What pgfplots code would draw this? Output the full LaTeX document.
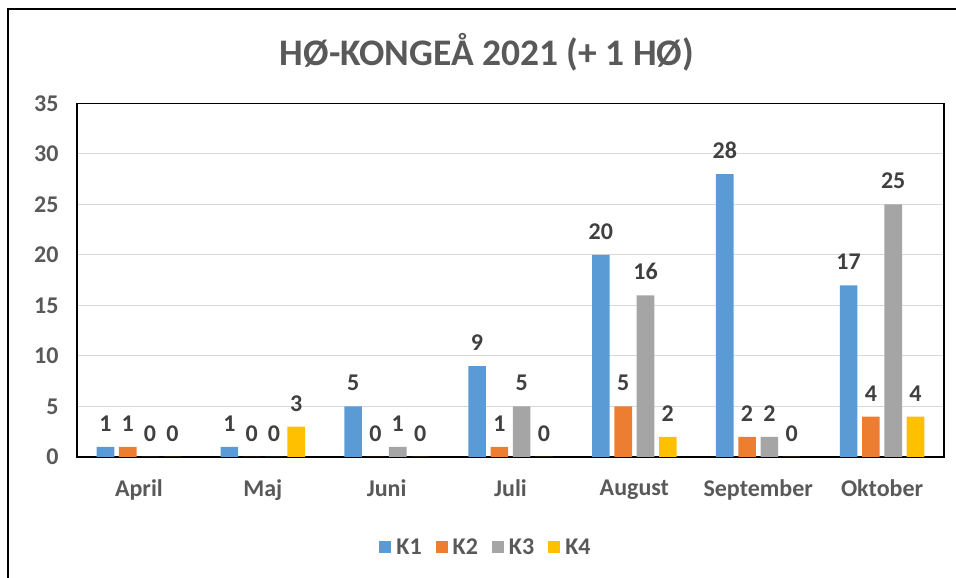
\documentclass[border=0pt]{standalone}
\usepackage{pgfplots}
\pgfplotsset{compat=1.18}
\usepackage{fontspec}
\setmainfont{Carlito}
\definecolor{cK1}{HTML}{5B9BD5}
\definecolor{cK2}{HTML}{ED7D31}
\definecolor{cK3}{HTML}{A5A5A5}
\definecolor{cK4}{HTML}{FFC000}
\definecolor{tickc}{HTML}{595959}
\definecolor{lblc}{HTML}{404040}
\definecolor{gridc}{HTML}{D9D9D9}
\pgfplotsset{sq/.style={legend image code/.code={\fill[##1] (0pt,-6pt) rectangle (12pt,6pt);}}}
\begin{document}
\begin{tikzpicture}[x=1pt,y=1pt]
\path[use as bounding box] (0,0) rectangle (956,578);
\draw[line width=2pt] (7.5,-5) -- (7.5,568.5) -- (965,568.5);
\node[font=\fontsize{37.5}{42}\selectfont\bfseries, text=tickc] at (487,526) {HØ-KONGEÅ 2021 (+ 1 HØ)};
\begin{axis}[at={(77pt,121pt)}, anchor=south west, scale only axis,
  width=867pt, height=353.5pt,
  ybar=4.7pt, bar width=17.6pt,
  xmin=-0.5, xmax=6.5, ymin=0, ymax=35,
  xtick={0,...,6}, xticklabels={April,Maj,Juni,Juli,August,September,Oktober},
  ytick={0,5,...,35},
  ymajorgrids, grid style={draw=gridc, line width=1pt},
  axis line style={line width=1.5pt, black},
  tick style={draw=none},
  tick label style={font=\fontsize{24}{28}\selectfont\bfseries, text=tickc},
  yticklabel style={xshift=-15pt},
  xticklabel style={yshift=-15pt},
  /pgf/number format/assume math mode=true,
  nodes near coords,
  nodes near coords style={font=\fontsize{24}{28}\selectfont\bfseries, text=lblc, yshift=12pt, /pgf/number format/assume math mode=true},
  legend columns=4,
  legend style={at={(0.4717,-0.2546)}, anchor=center, draw=none, fill=none,
    font=\fontsize{24}{28}\selectfont\bfseries, text=tickc,
    /tikz/every odd column/.append style={column sep=3pt},
    /tikz/every even column/.append style={column sep=12pt}},
]
\addplot[fill=cK1, draw=none, sq] coordinates {(0,1) (1,1) (2,5) (3,9) (4,20) (5,28) (6,17)};
\addplot[fill=cK2, draw=none, sq] coordinates {(0,1) (1,0) (2,0) (3,1) (4,5) (5,2) (6,4)};
\addplot[fill=cK3, draw=none, sq] coordinates {(0,0) (1,0) (2,1) (3,5) (4,16) (5,2) (6,25)};
\addplot[fill=cK4, draw=none, sq] coordinates {(0,0) (1,3) (2,0) (3,0) (4,2) (5,0) (6,4)};
\legend{K1,K2,K3,K4}
\end{axis}
\end{tikzpicture}
\end{document}
